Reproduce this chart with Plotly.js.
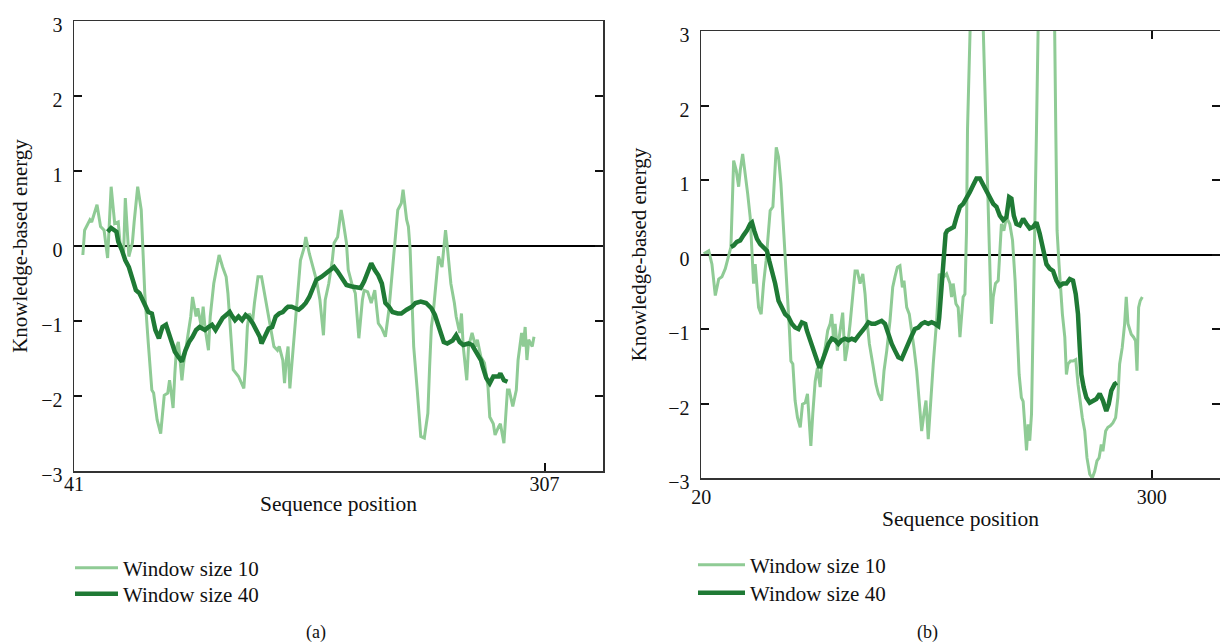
<!DOCTYPE html>
<html>
<head>
<meta charset="utf-8">
<script src="https://cdn.plot.ly/plotly-3.0.1.min.js"></script>
<style>
  html, body { margin: 0; padding: 0; background: #ffffff; }
  #chart { width: 1220px; height: 644px; }
</style>
</head>
<body>
<div id="chart"></div>
<script>
// ---------- Texts ----------
const seriesNames = ['Window size 10', 'Window size 40'];
const panelLabels = ['(a)', '(b)'];
const xTitle = 'Sequence position';
const yTitle = 'Knowledge-based energy';

const xTicksA = [41, 307];
const xTicksB = [20, 300];
const yTicks = [-3, -2, -1, 0, 1, 2, 3];

// ---------- Panel (a) ----------
const posA10 = [46,47,50,51,54,56,58,60,62,64,66,67,69,70,72,74,75,77,79,80,81,83,85,86,88,90,91,92,94,95,96,97,98,99,100,101,102,103,105,107,108,110,111,113,114,115,117,118,120,123,125,127,128,130,131,134,137,138,139,140,142,143,145,147,149,150,152,154,156,157,159,160,161,162,163,165,167,168,169,171,172,174,176,178,180,182,183,185,187,188,190,192,193,195,196,198,200,202,204,205,207,209,211,213,215,217,219,221,223,224,226,227,229,230,231,232,233,235,236,237,239,241,242,243,244,246,247,249,250,251,252,253,254,256,257,259,260,261,263,264,266,268,269,271,273,275,276,278,279,281,282,284,285,286,287,289,291,292,294,295,296,297,298,300,301];
const energyA10 = [-0.12,0.21,0.35,0.32,0.55,0.26,0.21,-0.16,0.79,0.30,0.32,0.04,-0.13,0.64,-0.14,0.04,0.32,0.79,0.48,0.01,-0.63,-1.30,-1.92,-1.96,-2.32,-2.50,-2.23,-1.99,-1.96,-1.79,-1.96,-2.16,-1.70,-1.34,-1.28,-1.52,-1.79,-1.56,-1.25,-0.94,-0.68,-0.94,-0.83,-1.08,-0.81,-1.08,-1.39,-0.94,-0.50,-0.12,-0.28,-0.41,-0.63,-1.34,-1.65,-1.74,-1.90,-1.56,-1.08,-0.90,-0.99,-0.76,-0.41,-0.41,-0.68,-0.85,-1.08,-1.34,-1.39,-1.34,-1.52,-1.83,-1.52,-1.34,-1.90,-1.34,-0.85,-0.54,-0.19,-0.03,0.12,-0.10,-0.28,-0.45,-0.72,-1.19,-0.72,-0.50,-0.19,0.04,0.12,0.48,0.35,0.04,-0.32,-0.50,-0.63,-1.23,-0.72,-0.59,-0.61,-0.76,-0.59,-1.03,-1.10,-1.21,-0.85,-0.32,0.26,0.48,0.57,0.75,0.35,0.26,-0.05,-0.72,-1.34,-1.92,-2.19,-2.54,-2.56,-2.23,-1.61,-1.08,-0.90,-0.41,-0.14,-0.28,-0.01,0.21,-0.01,-0.23,-0.50,-0.76,-0.94,-1.16,-0.90,-1.34,-1.79,-1.34,-1.16,-1.34,-1.25,-1.48,-1.56,-1.88,-2.28,-2.37,-2.52,-2.41,-2.37,-2.63,-2.23,-1.92,-1.92,-2.14,-1.92,-1.52,-1.16,-1.34,-1.08,-1.52,-1.25,-1.34,-1.21];

const posA40 = [60,62,65,66,68,70,72,74,76,78,80,82,83,85,87,89,91,93,95,97,98,100,102,104,106,108,110,112,114,115,117,119,121,123,125,127,129,130,132,134,136,138,140,142,144,146,147,149,151,153,155,157,159,161,162,164,166,168,170,172,174,176,178,181,184,186,188,190,193,195,198,201,203,205,207,209,211,213,215,217,219,221,224,226,229,232,234,237,240,243,245,247,249,250,252,255,257,259,261,264,266,269,271,272,274,276,278,281,282,284,286];
const energyA40 = [0.19,0.24,0.19,0.06,-0.05,-0.19,-0.28,-0.45,-0.59,-0.63,-0.72,-0.83,-0.88,-0.90,-1.12,-1.23,-1.08,-1.05,-1.21,-1.32,-1.41,-1.48,-1.54,-1.39,-1.28,-1.21,-1.12,-1.08,-1.10,-1.12,-1.08,-1.05,-1.12,-1.03,-0.96,-0.92,-0.88,-0.92,-0.99,-0.94,-0.99,-0.92,-0.96,-1.03,-1.12,-1.21,-1.30,-1.21,-1.10,-1.08,-0.94,-0.90,-0.88,-0.83,-0.81,-0.81,-0.83,-0.85,-0.81,-0.76,-0.68,-0.56,-0.45,-0.41,-0.36,-0.32,-0.28,-0.34,-0.45,-0.52,-0.54,-0.56,-0.56,-0.47,-0.34,-0.23,-0.32,-0.39,-0.50,-0.76,-0.81,-0.88,-0.90,-0.90,-0.85,-0.81,-0.76,-0.74,-0.76,-0.83,-0.92,-1.08,-1.21,-1.28,-1.30,-1.26,-1.19,-1.28,-1.32,-1.30,-1.32,-1.45,-1.52,-1.61,-1.76,-1.83,-1.74,-1.74,-1.70,-1.79,-1.81];

// ---------- Panel (b) ----------
const posB10 = [21.5,24.6,26.6,28.7,30.8,32.8,34.9,37.0,38.4,40.1,41.7,43.2,44.2,45.7,47.3,48.8,50.4,51.5,52.5,53.5,54.6,55.6,57.2,58.7,60.3,61.8,62.8,64.5,65.3,66.6,68.0,69.5,70.7,72.1,73.6,74.8,75.7,76.9,78.3,79.8,81.5,82.9,84.6,86.0,86.8,88.1,89.3,90.8,92.2,93.9,94.9,97.0,98.6,100.1,101.1,102.1,103.2,104.6,106.3,107.9,109.4,110.8,112.5,114.1,115.6,117.0,118.7,120.4,121.8,122.8,124.5,126.6,128.6,130.1,132.1,133.6,135.3,137.3,139.0,140.4,141.9,143.5,145.0,146.0,147.7,149.3,150.8,152.2,153.9,155.5,157.0,158.4,159.7,161.1,162.6,164.2,166.3,167.9,169.4,170.8,172.5,174.6,175.6,176.6,178.3,179.7,180.8,181.8,182.8,183.9,184.9,185.5,186.4,188.5,190.7,193.0,195.3,196.3,197.3,198.4,199.4,200.4,201.5,202.9,204.6,205.6,206.6,208.1,209.7,211.8,213.5,215.1,216.4,217.6,219.0,220.1,221.1,222.2,223.2,224.2,225.3,226.3,227.3,228.4,229.4,232.0,234.6,237.2,239.7,240.4,241.2,242.4,243.3,244.5,246.0,247.0,248.0,249.5,251.1,252.8,254.2,255.7,256.9,258.4,259.8,261.5,263.1,264.6,266.0,267.3,268.7,269.7,271.4,272.8,274.3,275.9,277.6,279.0,280.1,281.7,283.2,284.2,285.3,287.3,288.8,290.0,290.9,291.9,292.9,294.2];
const energyB10 = [0.01,0.05,-0.13,-0.55,-0.33,-0.30,-0.19,-0.01,0.10,1.26,1.13,0.91,1.13,1.35,1.09,0.82,0.50,-0.04,-0.39,-0.13,-0.39,-0.71,-0.80,-0.39,-0.08,0.32,0.59,0.64,1.00,1.44,1.31,0.95,0.50,0.01,-0.44,-1.02,-1.43,-1.47,-1.96,-2.19,-2.32,-2.01,-1.99,-1.87,-2.14,-2.57,-2.14,-1.70,-1.52,-1.78,-1.48,-1.25,-1.02,-0.93,-0.80,-1.11,-0.93,-1.29,-1.02,-0.78,-1.43,-1.25,-0.93,-0.57,-0.22,-0.22,-0.39,-0.26,-0.53,-0.84,-1.20,-1.47,-1.74,-1.87,-1.96,-1.56,-1.29,-0.89,-0.44,-0.30,-0.17,-0.15,-0.44,-0.35,-0.71,-0.80,-1.02,-1.25,-1.56,-2.01,-2.37,-2.14,-1.96,-2.48,-1.96,-1.47,-0.89,-0.26,-0.30,-0.30,-0.26,-0.39,-0.57,-0.39,-0.66,-0.71,-1.11,-0.80,-0.57,-0.53,0.32,1.67,3.01,4.8,6.0,4.8,3.01,2.12,1.22,0.55,-0.13,-0.93,-0.57,-0.39,-0.35,0.10,0.41,0.32,0.50,0.41,0.19,-0.35,-1.02,-1.61,-1.92,-1.97,-2.28,-2.63,-2.28,-2.50,-2.14,-1.02,0.32,1.67,3.01,4.5,5.5,4.5,3.01,1.67,0.32,-0.13,-0.48,-0.80,-1.11,-1.61,-1.47,-1.43,-1.43,-1.41,-1.74,-2.01,-2.19,-2.37,-2.73,-2.95,-3.00,-2.91,-2.77,-2.73,-2.55,-2.64,-2.37,-2.32,-2.30,-2.26,-2.19,-1.92,-1.47,-1.25,-0.93,-0.57,-0.93,-1.07,-1.11,-1.16,-1.56,-0.71,-0.62,-0.57];

const posB40 = [38.4,40.1,42.1,44.2,46.3,48.3,50.4,51.5,52.9,54.6,56.6,58.7,60.8,62.2,63.9,65.9,68.0,70.1,72.1,74.2,76.3,78.3,80.4,82.5,84.6,85.6,87.7,89.7,91.8,93.5,94.9,97.0,99.0,101.1,103.2,105.2,107.3,109.4,111.5,113.5,115.6,117.7,119.7,121.8,123.9,125.9,128.0,130.1,132.1,134.2,136.3,138.4,140.4,142.5,144.6,146.6,148.7,150.8,152.8,154.9,157.0,159.0,161.1,163.2,165.3,167.3,167.9,169.0,170.0,170.8,171.9,172.9,175.0,177.0,178.7,180.8,182.8,184.9,187.0,189.0,191.1,193.2,195.3,197.3,199.4,201.5,203.5,205.6,207.7,209.7,211.4,212.8,214.3,215.9,218.0,220.1,222.2,224.2,226.3,228.4,230.4,232.5,234.6,236.6,238.7,240.8,242.8,244.9,247.0,249.1,251.1,252.8,254.2,255.3,256.3,257.7,259.4,261.5,263.5,265.6,267.7,269.7,271.8,273.3,274.9,277.0,278.4];
const energyB40 = [0.10,0.12,0.17,0.19,0.26,0.32,0.41,0.43,0.32,0.21,0.14,0.10,0.05,-0.08,-0.22,-0.39,-0.62,-0.73,-0.80,-0.84,-0.93,-0.98,-1.00,-0.91,-0.93,-1.02,-1.16,-1.29,-1.40,-1.52,-1.45,-1.34,-1.20,-1.13,-1.15,-1.20,-1.15,-1.13,-1.15,-1.13,-1.15,-1.09,-1.04,-0.98,-0.91,-0.93,-0.93,-0.91,-0.89,-0.93,-1.07,-1.20,-1.29,-1.38,-1.40,-1.29,-1.20,-1.09,-1.00,-0.98,-0.93,-0.91,-0.93,-0.91,-0.93,-0.96,-0.85,-0.57,-0.22,0.05,0.28,0.32,0.35,0.37,0.50,0.64,0.68,0.75,0.84,0.93,1.02,1.02,0.93,0.86,0.77,0.68,0.64,0.52,0.46,0.50,0.77,0.75,0.52,0.41,0.39,0.48,0.41,0.35,0.37,0.43,0.28,0.10,-0.13,-0.19,-0.22,-0.35,-0.42,-0.39,-0.39,-0.33,-0.35,-0.53,-0.80,-1.25,-1.61,-1.78,-1.92,-1.99,-1.96,-1.94,-1.87,-1.96,-2.10,-2.01,-1.83,-1.74,-1.72];

// ---------- styles ----------
const LIGHT = '#8fcb95';
const DARK = '#1f7a35';
const FONT = 'Liberation Serif, Times New Roman, serif';
const W = 1220, H = 644;

function trace(x, y, name, color, width, xa, ya, legend) {
  return { type: 'scatter', mode: 'lines', x: x, y: y, name: name,
    xaxis: xa, yaxis: ya, legend: legend,
    line: { color: color, width: width, shape: 'linear' }, hoverinfo: 'skip' };
}

const data = [
  trace(posA10, energyA10, seriesNames[0], LIGHT, 3, 'x', 'y', 'legend'),
  trace(posA40, energyA40, seriesNames[1], DARK, 4.5, 'x', 'y', 'legend2'),
  trace(posB10, energyB10, seriesNames[0], LIGHT, 3, 'x2', 'y2', 'legend3'),
  trace(posB40, energyB40, seriesNames[1], DARK, 4.5, 'x2', 'y2', 'legend4')
];

function xAxis(ticks, range, domain, anchor, mirror, lblOff, titleOff) {
  return { domain: domain, range: range, anchor: anchor,
    tickmode: 'array', tickvals: ticks, ticktext: ticks.map(String),
    ticks: 'inside', ticklen: 8, tickwidth: 2, tickcolor: '#111',
    showline: true, linecolor: '#333', linewidth: 1.5, mirror: mirror,
    showgrid: false, zeroline: false,
    ticklabelstandoff: lblOff,
    tickfont: { family: FONT, size: 20, color: '#111' },
    title: { text: xTitle, standoff: titleOff, font: { family: FONT, size: 21.5, color: '#111' } } };
}
function yAxis(domain, anchor, standoff) {
  return { domain: domain, range: [-3, 3], anchor: anchor,
    tickmode: 'array', tickvals: yTicks,
    ticks: 'inside', ticklen: 8, tickwidth: 2, tickcolor: '#111',
    showline: true, linecolor: '#333', linewidth: 1.5, mirror: 'ticks',
    showgrid: false, zeroline: true, zerolinecolor: '#000', zerolinewidth: 2,
    ticklabelstandoff: 6, ticklabelshift: 4,
    tickfont: { family: FONT, size: 20, color: '#111' },
    title: { text: yTitle, standoff: standoff, font: { family: FONT, size: 21, color: '#111' } } };
}
function legendAt(xLeft, yMid, itemW) {
  return { x: xLeft / W, y: 1 - yMid / H, xanchor: 'left', yanchor: 'middle',
    bgcolor: 'rgba(0,0,0,0)', borderwidth: 0, itemwidth: itemW,
    font: { family: FONT, size: 21, color: '#111' } };
}

const layout = {
  width: W, height: H,
  margin: { l: 0, r: 0, t: 0, b: 0 },
  paper_bgcolor: '#ffffff', plot_bgcolor: '#ffffff',
  font: { family: FONT, color: '#111' },
  showlegend: true,
  xaxis: xAxis(xTicksA, [41, 340], [74 / W, 603 / W], 'y', true, -6, 2),
  yaxis: yAxis([1 - 471 / H, 1 - 21 / H], 'x', 8),
  xaxis2: xAxis(xTicksB, [19.8, 342.5], [701 / W, 1], 'y2', 'ticks', 0, 4),
  yaxis2: yAxis([1 - 478 / H, 1 - 31 / H], 'x2', 16),
  legend: legendAt(70, 568, 43),
  legend2: legendAt(70, 594, 43),
  legend3: legendAt(693, 565, 47),
  legend4: legendAt(693, 593, 47),
  annotations: [
    { text: panelLabels[0], xref: 'paper', yref: 'paper', x: 316 / W, y: 1 - 632 / H,
      showarrow: false, xanchor: 'center', yanchor: 'middle', font: { family: FONT, size: 18, color: '#111' } },
    { text: panelLabels[1], xref: 'paper', yref: 'paper', x: 927 / W, y: 1 - 632 / H,
      showarrow: false, xanchor: 'center', yanchor: 'middle', font: { family: FONT, size: 18, color: '#111' } }
  ]
};

Plotly.newPlot('chart', data, layout, { displayModeBar: false, staticPlot: true });
</script>
</body>
</html>
